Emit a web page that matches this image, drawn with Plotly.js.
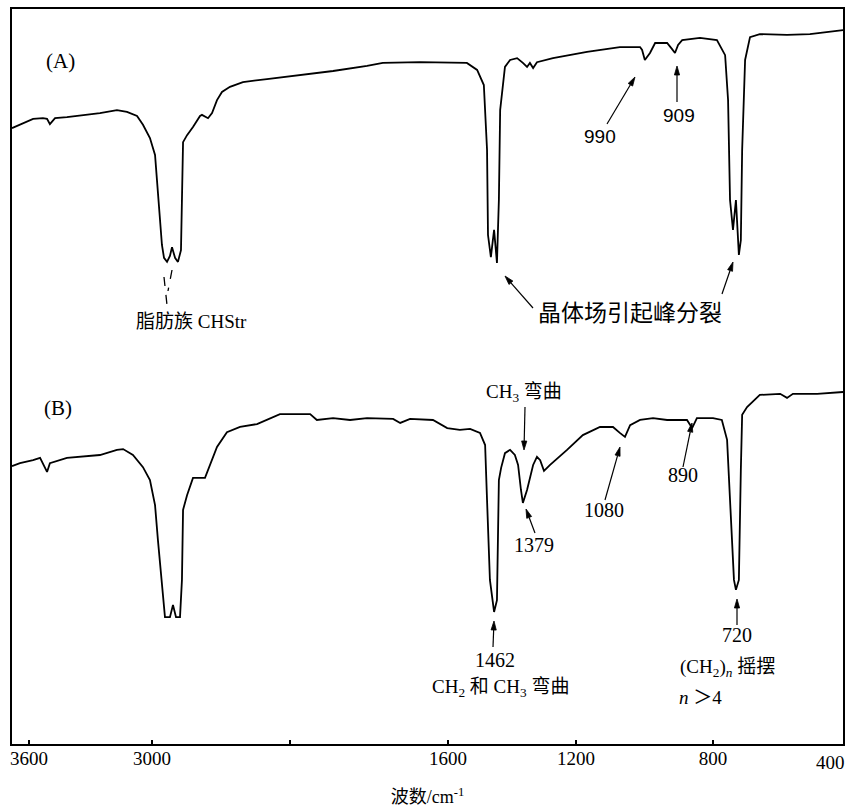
<!DOCTYPE html>
<html>
<head>
<meta charset="utf-8">
<script src="https://cdn.plot.ly/plotly-3.0.1.min.js"></script>
<style>html,body{margin:0;padding:0;background:#fff;}</style>
</head>
<body>
<div id="chart" style="width:850px;height:809px;"></div>
<script>
// ---- Spectrum (A): wavenumber (cm-1) and transmittance (%) ----
const wnA = [3683,3644,3580,3532,3512,3498,3473,3415,3254,3171,3122,3073,3044,3010,2978,2964,2942,2928,2913,2891,
  2870,2855,2833,2812,2790,2783,2775,2746,2703,2652,2638,2594,2565,2529,2493,2435,2341,2167,1975,1891,
  1805,1765,1671,1602,1541,1509,1488,1478,1475,1466,1456,1447,1441,1437,1422,1406,1384,1366,1353,1344,
  1334,1322,1272,1168,1072,1013,1007,999,984,969,934,920,911,902,890,838,788,763,754,748,
  739,730,721,715,711,702,687,657,574,504,452,403];
const tA = [67.4,68.3,69.9,70.1,69.9,68.5,70.1,70.4,71.5,72.3,71.8,70.7,68.3,64.7,60.1,53.3,42.5,35.7,32.2,31.1,
  32.7,35.1,32.2,31.1,34.3,47.9,63.6,65.5,67.7,70.7,71.0,70.1,71.5,75.0,77.2,78.6,79.9,80.7,81.8,82.9,
  84.3,85.1,85.3,85.3,85.1,83.2,79.1,61.5,38.4,32.4,39.8,30.8,47.9,72.3,84.0,85.9,86.4,85.1,84.0,85.1,
  83.7,85.3,86.4,88.1,89.4,89.4,88.6,85.9,87.8,90.5,90.5,88.9,87.8,90.0,91.3,91.9,91.3,87.2,75.0,47.9,
  39.8,47.9,33.0,37.0,61.5,85.9,92.1,92.9,92.7,92.9,93.5,94.0];

// ---- Spectrum (B): wavenumber (cm-1) and transmittance (%) ----
const wnB = [3683,3644,3580,3546,3512,3498,3415,3254,3171,3141,3093,3044,3010,2978,2957,2928,2906,2870,2848,2826,
  2797,2783,2775,2746,2703,2616,2580,2529,2457,2362,2239,2167,2073,1949,1932,1891,1848,1805,1739,1721,
  1696,1638,1602,1563,1531,1500,1484,1478,1469,1456,1447,1441,1434,1422,1406,1391,1381,1372,1366,1353,
  1334,1322,1312,1300,1281,1228,1180,1130,1092,1072,1057,1042,1013,975,934,876,861,847,800,773,
  757,748,736,730,721,715,711,696,657,595,574,556,482,403];
const tB = [75.7,76.5,77.3,77.9,74.1,76.5,77.9,78.7,80.1,80.3,78.7,75.4,71.9,65.1,55.6,44.8,34.7,34.7,38.0,34.7,
  34.7,44.8,63.8,67.8,72.5,72.5,76.0,80.9,84.9,86.3,87.1,88.2,89.8,89.8,88.2,88.7,88.2,88.7,88.5,87.4,
  88.5,88.2,86.0,85.5,85.8,84.7,81.4,66.5,44.8,36.1,39.3,71.9,75.2,79.2,80.1,78.7,76.0,69.2,65.7,69.2,
  76.0,78.2,77.3,74.4,76.0,80.1,84.1,86.3,86.3,84.7,83.6,86.8,88.2,88.7,88.2,88.2,86.0,88.7,88.7,88.2,
  82.8,66.5,44.8,42.1,44.8,74.6,89.6,91.7,95.0,95.3,94.2,95.3,95.3,95.8];

// ---- x-axis ticks ----
const tickWN = [3600,3000,1600,1200,800];
const tickText = ['3600','3000','1600','1200','800'];
const edgeTickWN = 400, edgeTickText = '400';   // label at the right edge, drawn inside the frame
const minorTickWN = [2000];                      // unlabelled tick

// ---- instrument scale: breakpoints of the (piecewise linear) wavenumber scale ----
const scaleWN = [3600,3000,2000,1600,1200,800,400];
const scalePos = [18,141,279,437,565,702,833];
const scaleMin = 0, scaleMax = 833;

function toU(wn){
  let i = 0;
  while (i < scaleWN.length - 2 && wn < scaleWN[i+1]) i++;
  const w0 = scaleWN[i], w1 = scaleWN[i+1], p0 = scalePos[i], p1 = scalePos[i+1];
  return p0 + (wn - w0) * (p1 - p0) / (w1 - w0);
}

const serif = 'Liberation Serif, "Noto Sans CJK SC", serif';
const sans = 'Liberation Sans, Arial, sans-serif';

// helper: position on paper from pixel location in the 850x809 picture
const X = px => (px - 11) / 833;
const Y = py => (745 - py) / 737;

// text labels: [text, x, y, size, family]
const labels = [
  ['(A)', 60, 61, 21, serif],
  ['(B)', 58, 408, 21, serif],
  ['脂肪族 CHStr', 191, 322, 19, serif],
  ['晶体场引起峰分裂', 630, 313, 23, serif],
  ['990', 600, 137, 19, sans],
  ['909', 679, 115, 19, sans],
  ['CH<sub>3</sub> 弯曲', 524, 393, 19, serif],
  ['1379', 534, 545, 20, serif],
  ['1080', 604, 510, 20, serif],
  ['890', 683, 475, 20, serif],
  ['1462', 495, 660, 20, serif],
  ['CH<sub>2</sub> 和 CH<sub>3</sub> 弯曲', 500, 688, 19, serif],
  ['720', 737, 635, 20, serif],
  ['(CH<sub>2</sub>)<sub><i>n</i></sub> 摇摆', 727, 668, 19, serif],
  ['<i>n</i> ＞4', 700, 697, 19, serif]
];
// arrows: [tipX, tipY, tailX, tailY]
const arrows = [
  [505, 276, 533, 308],
  [733, 262, 722, 294],
  [635, 77, 607, 124],
  [677, 66, 677, 102],
  [524, 450, 525, 407],
  [526, 509, 535, 533],
  [620, 447, 605, 500],
  [692, 423, 683, 467],
  [494, 621, 493, 647],
  [737, 599, 737, 625]
];
// dashed leader lines: [x0,y0,x1,y1]
const leaders = [
  [164, 277, 167, 305],
  [172, 270, 168, 291]
];

const annotations = labels.map(l => ({
  xref: 'paper', yref: 'paper', x: X(l[1]), y: Y(l[2]), text: l[0], showarrow: false,
  xanchor: 'center', yanchor: 'middle', font: {family: l[4], size: l[3], color: '#000'}
}));
// right-edge tick label (kept inside the window like in the original)
annotations.push({
  xref: 'paper', yref: 'paper', x: toU(edgeTickWN) / (scaleMax - scaleMin), y: Y(762),
  text: edgeTickText, showarrow: false, xanchor: 'right', yanchor: 'middle', xshift: 3,
  font: {family: serif, size: 19, color: '#000'}
});

const shapes = [{
  type: 'rect', xref: 'paper', yref: 'paper', x0: 0, x1: 1, y0: 0, y1: 1,
  line: {color: '#000', width: 2}, layer: 'above'
}];
arrows.forEach(a => {
  const dx = a[0] - a[2], dy = a[1] - a[3];
  const len = Math.hypot(dx, dy), ux = dx / len, uy = dy / len;
  const L = 9, W = 2.6;
  const bx = a[0] - ux * L, by = a[1] - uy * L;
  shapes.push({
    type: 'line', xref: 'paper', yref: 'paper', x0: X(a[2]), y0: Y(a[3]), x1: X(bx), y1: Y(by),
    line: {color: '#000', width: 1.2}
  });
  const p1 = [bx - uy * W, by + ux * W], p2 = [bx + uy * W, by - ux * W];
  shapes.push({
    type: 'path', xref: 'paper', yref: 'paper',
    path: `M ${X(a[0])} ${Y(a[1])} L ${X(p1[0])} ${Y(p1[1])} L ${X(p2[0])} ${Y(p2[1])} Z`,
    fillcolor: '#000', line: {color: '#000', width: 0.8}
  });
});
leaders.forEach(d => shapes.push({
  type: 'line', xref: 'paper', yref: 'paper', x0: X(d[0]), y0: Y(d[1]), x1: X(d[2]), y1: Y(d[3]),
  line: {color: '#000', width: 1.3, dash: 'dash'}
}));

const lineStyle = {color: '#000', width: 1.8};
const traces = [
  {x: wnA.map(toU), y: tA, type: 'scatter', mode: 'lines', line: lineStyle, name: '(A)', xaxis: 'x', yaxis: 'y2', hoverinfo: 'skip'},
  {x: wnB.map(toU), y: tB, type: 'scatter', mode: 'lines', line: lineStyle, name: '(B)', xaxis: 'x', yaxis: 'y', hoverinfo: 'skip'}
];

const layout = {
  width: 850, height: 809,
  margin: {l: 11, r: 6, t: 8, b: 64, pad: 0},
  paper_bgcolor: '#fff', plot_bgcolor: '#fff',
  showlegend: false,
  xaxis: {
    range: [scaleMin, scaleMax], anchor: 'y',
    tickmode: 'array', tickvals: tickWN.map(toU), ticktext: tickText,
    ticks: 'inside', ticklen: 5, tickwidth: 1.5, tickcolor: '#000',
    minor: {tickmode: 'array', tickvals: minorTickWN.map(toU), ticks: 'inside', ticklen: 5, tickwidth: 1.5, tickcolor: '#000', showgrid: false},
    tickfont: {family: serif, size: 19, color: '#000'},
    showgrid: false, zeroline: false, showline: false,
    title: {text: '波数/cm<sup>-1</sup>', font: {family: serif, size: 18, color: '#000'}, standoff: 22}
  },
  yaxis: {domain: [0, 0.5], range: [0, 100], visible: false, fixedrange: true},
  yaxis2: {domain: [0.5, 1], range: [0, 100], visible: false, fixedrange: true},
  annotations: annotations,
  shapes: shapes
};

Plotly.newPlot('chart', traces, layout, {staticPlot: true, displayModeBar: false});
</script>
</body>
</html>
